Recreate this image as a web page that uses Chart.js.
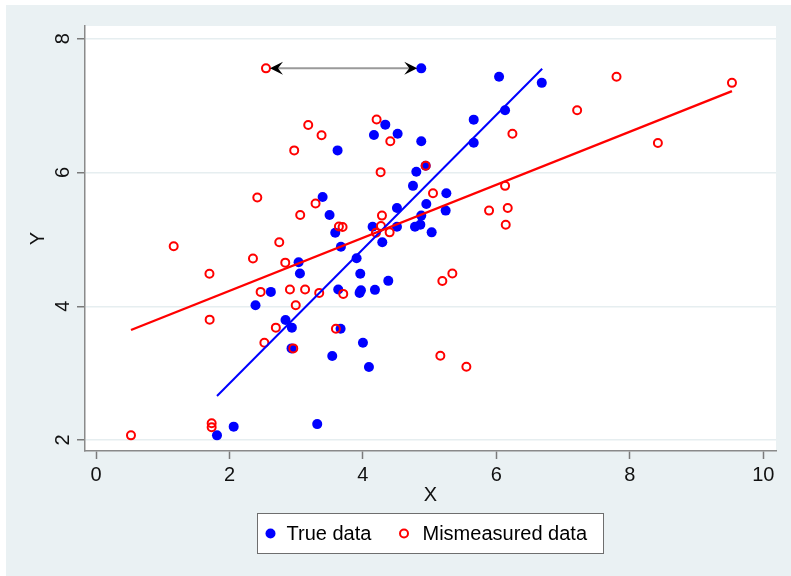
<!DOCTYPE html>
<html>
<head>
<meta charset="utf-8">
<script src="https://cdn.jsdelivr.net/npm/chart.js@4"></script>
<style>
  html, body { margin: 0; padding: 0; background: #fff; }
  #wrap { width: 791px; height: 576px; }
</style>
</head>
<body>
<div id="wrap"><canvas id="errGraph" width="791" height="576"></canvas></div>
<script>
// true vs mismeasured X, same Y
const trueX = [4.874, 6.04, 6.68, 6.13, 5.66, 4.335, 4.52, 4.165, 4.874, 5.66, 3.62, 4.94, 4.80, 4.75, 5.25, 3.396, 4.95, 4.51, 5.24, 3.50,
  4.874, 4.86, 4.78, 4.145, 4.51, 3.585, 5.03, 3.67, 4.29, 3.905, 3.036, 3.056, 3.96, 4.38, 2.62, 3.63, 4.18, 3.95, 3.97, 2.39,
  2.84, 2.935, 3.665, 4.0, 2.93, 3.54, 4.09, 3.315, 2.063, 1.813];
const trueY = [7.557, 7.43, 7.34, 6.93, 6.79, 6.715, 6.58, 6.56, 6.466, 6.445, 6.33, 6.10, 6.01, 5.80, 5.69, 5.633, 5.53, 5.47, 5.43, 5.364,
  5.355, 5.22, 5.19, 5.19, 5.19, 5.10, 5.105, 4.89, 4.956, 4.717, 4.657, 4.49, 4.487, 4.38, 4.215, 4.25, 4.245, 4.20, 4.24, 4.014,
  3.795, 3.68, 3.665, 3.455, 3.37, 3.256, 3.093, 2.238, 2.20, 2.07];
const mismX = [2.547, 7.80, 9.53, 7.21, 4.205, 3.18, 6.24, 3.38, 4.41, 8.42, 2.97, 4.94, 4.265, 6.13, 5.05, 2.417, 3.29, 6.17, 5.89, 3.06,
  4.285, 6.14, 4.27, 3.64, 3.695, 4.195, 4.40, 1.164, 2.746, 2.352, 2.836, 1.70, 5.34, 5.19, 2.467, 2.906, 3.133, 3.345, 3.705, 2.993,
  1.703, 2.695, 3.595, 2.523, 2.956, 5.16, 5.55, 1.733, 1.733, 0.524];
const mismY = [7.557, 7.43, 7.34, 6.93, 6.793, 6.71, 6.578, 6.556, 6.466, 6.44, 6.33, 6.10, 6.005, 5.80, 5.69, 5.625, 5.535, 5.47, 5.43, 5.364,
  5.355, 5.218, 5.20, 5.193, 5.185, 5.10, 5.105, 4.896, 4.956, 4.715, 4.652, 4.487, 4.49, 4.377, 4.215, 4.25, 4.25, 4.20, 4.185, 4.014,
  3.80, 3.68, 3.665, 3.455, 3.37, 3.26, 3.096, 2.25, 2.19, 2.07];

// fitted lines
const trueFitX = [1.813, 6.686];
const trueFitY = [2.658, 7.552];
const mismFitX = [0.524, 9.53];
const mismFitY = [3.645, 7.218];

// arrow between the two top points
const arrowX = [2.547, 4.874];
const arrowY = [7.557, 7.557];

const xTicks = [0, 2, 4, 6, 8, 10];
const yTicks = [2, 4, 6, 8];
const seriesNames = ['True data', 'Mismeasured data'];

const pts = (xs, ys) => xs.map((x, i) => ({ x: x, y: ys[i] }));
const FONT = "'Liberation Sans', Arial, sans-serif";

const bgPlugin = {
  id: 'bg',
  beforeDraw(chart) {
    const c = chart.ctx, a = chart.chartArea;
    c.save();
    c.fillStyle = '#ffffff';
    c.fillRect(0, 0, chart.width, chart.height);
    c.fillStyle = '#eaf1f3';
    c.fillRect(6, 5, chart.width - 6, chart.height - 5);
    c.fillStyle = '#ffffff';
    c.fillRect(a.left, a.top, a.right - a.left, a.bottom - a.top);
    c.restore();
  }
};

// arrowheads at both ends + boxed legend
const extrasPlugin = {
  id: 'extras',
  afterDatasetsDraw(chart) {
    const c = chart.ctx, xs = chart.scales.x, ys = chart.scales.y;
    const y = ys.getPixelForValue(arrowY[0]);
    const x0 = xs.getPixelForValue(arrowX[0]) + 4;
    const x1 = xs.getPixelForValue(arrowX[1]) - 4;
    c.save();
    c.fillStyle = '#000';
    const head = (tip, dir) => {
      c.beginPath();
      c.moveTo(tip, y);
      c.lineTo(tip - dir * 13, y - 6.5);
      c.lineTo(tip - dir * 8, y);
      c.lineTo(tip - dir * 13, y + 6.5);
      c.closePath();
      c.fill();
    };
    head(x0, -1);
    head(x1, 1);
    c.restore();
  },
  afterDraw(chart) {
    const c = chart.ctx;
    const cx = (chart.chartArea.left + chart.chartArea.right) / 2;
    const bx = cx - 173, by = 513.5, bw = 346, bh = 40;
    const my = by + bh / 2;
    c.save();
    c.fillStyle = '#fff';
    c.fillRect(bx, by, bw, bh);
    c.strokeStyle = '#6e6e6e';
    c.lineWidth = 1;
    c.strokeRect(bx, by, bw, bh);
    c.fillStyle = 'blue';
    c.beginPath();
    c.arc(bx + 13, my, 5, 0, Math.PI * 2);
    c.fill();
    c.strokeStyle = 'red';
    c.lineWidth = 2;
    c.beginPath();
    c.arc(bx + 146.5, my, 4, 0, Math.PI * 2);
    c.stroke();
    c.fillStyle = '#000';
    c.font = '20px ' + FONT;
    c.textBaseline = 'middle';
    c.textAlign = 'left';
    c.fillText(seriesNames[0], bx + 29, my + 1);
    c.fillText(seriesNames[1], bx + 165, my + 1);
    c.restore();
  }
};

const ctx = document.getElementById('errGraph').getContext('2d');
const chart = new Chart(ctx, {
  type: 'scatter',
  data: {
    datasets: [
      {
        type: 'line', label: 'arrow', data: pts(arrowX, arrowY).map((p, i) => ({ x: p.x + (i ? -0.15 : 0.15), y: p.y })),
        borderColor: '#9a9a9a', borderWidth: 2, pointRadius: 0, fill: false
      },
      {
        type: 'line', label: 'fit mismeasured', data: pts(mismFitX, mismFitY),
        borderColor: 'red', borderWidth: 2.4, pointRadius: 0, fill: false
      },
      {
        type: 'line', label: 'fit true', data: pts(trueFitX, trueFitY),
        borderColor: 'blue', borderWidth: 2, pointRadius: 0, fill: false
      },
      {
        label: seriesNames[1], data: pts(mismX, mismY),
        pointStyle: 'circle', pointRadius: 4, borderWidth: 2,
        borderColor: 'red', backgroundColor: 'rgba(0,0,0,0)'
      },
      {
        label: seriesNames[0], data: pts(trueX, trueY),
        pointStyle: 'circle', pointRadius: 5, borderWidth: 0,
        borderColor: 'blue', backgroundColor: 'blue'
      }
    ]
  },
  options: {
    responsive: false,
    animation: false,
    events: [],
    layout: { padding: { left: 6, right: 15, top: 26, bottom: 65 } },
    plugins: { legend: { display: false }, tooltip: { enabled: false } },
    scales: {
      x: {
        type: 'linear', min: -0.165, max: 10.19,
        afterBuildTicks: s => { s.ticks = xTicks.map(v => ({ value: v })); },
        afterFit: s => { s.height = 60; },
        grid: { display: true, drawOnChartArea: false, color: 'rgba(0,0,0,0)', tickColor: '#7a7a7a', tickLength: 8, tickWidth: 1.5 },
        border: { display: true, color: '#8a8a8a', width: 1.5 },
        ticks: { color: '#111', font: { family: FONT, size: 20 }, padding: 4, maxRotation: 0 },
        title: { display: true, text: 'X', color: '#111', font: { family: FONT, size: 20 }, padding: { top: 0, bottom: 4 } }
      },
      y: {
        type: 'linear', min: 1.836, max: 8.19,
        afterBuildTicks: s => { s.ticks = yTicks.map(v => ({ value: v })); },
        afterFit: s => { s.width = 79; },
        grid: { color: '#e6eef0', lineWidth: 1.5, tickColor: '#7a7a7a', tickLength: 8, tickWidth: 1.5 },
        border: { display: true, color: '#8a8a8a', width: 1.5 },
        ticks: { color: '#111', font: { family: FONT, size: 20 }, padding: 8, minRotation: 90, maxRotation: 90, crossAlign: 'center' },
        title: { display: true, text: 'Y', color: '#111', font: { family: FONT, size: 20 }, padding: { top: 20, bottom: 0 } }
      }
    }
  },
  plugins: [bgPlugin, extrasPlugin]
});
</script>
</body>
</html>
